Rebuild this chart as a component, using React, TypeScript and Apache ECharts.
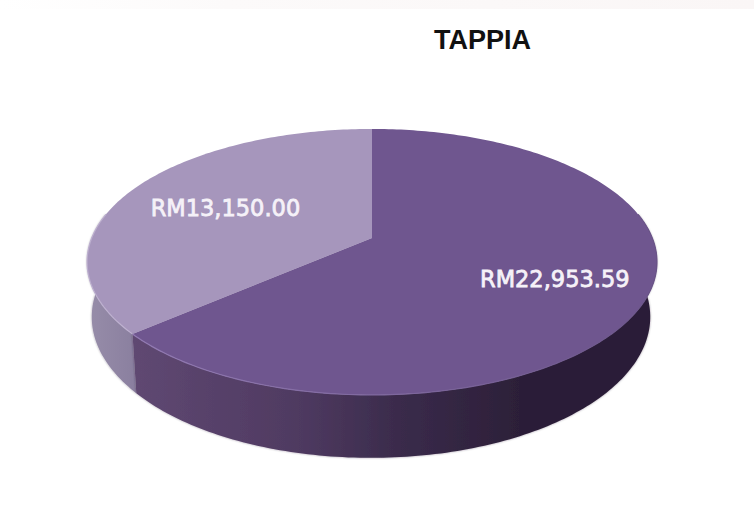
import React, { useEffect, useRef } from "react";
import * as echarts from "echarts";

const titleText = "TAPPIA";
const sliceValues = [13150.0, 22953.59];
const sliceLabels = ["RM13,150.00", "RM22,953.59"];
const topColors = ["#a696bc", "#6f568f"];
const rimColors = [["#bdb0cf", "#bdb0cf"], ["#927ab3", "#6a5488"]];
const wallStops: [number, string][][] = [
  [[0, "#978da9"], [1, "#8a7f9f"]],
  [[0, "#5f4872"], [0.315, "#4f3a61"], [0.51, "#3a2b4b"], [0.74, "#2c1f38"], [1, "#2c1f38"]],
];

// projection of the tilted disc
const CX = 372;
const APEX_Y = 238;
const A = 280.3;
const B = 128.7;
const K = 0.18;
const BOTTOM_CX = 371;
const BOTTOM_Y = 291.5;
const BOTTOM_SX = 0.98;
const BOTTOM_SY = 1.06;
const LABEL_RADIUS = [0.6, 0.68];
const LABEL_DY = [1, 3];
const FRONT_FROM = 79;
const FRONT_TO = 281;

const project = (deg: number, r = 1) => {
  const t = (deg * Math.PI) / 180;
  const u = -Math.sin(t) * r;
  const v = Math.cos(t) * r;
  const w = 1 + K * v;
  return [(A * u) / w, (-B * v) / w];
};
const topPoint = (deg: number, r = 1) => {
  const [x, y] = project(deg, r);
  return [CX + x, APEX_Y + y];
};
const bottomPoint = (deg: number) => {
  const [x, y] = project(deg);
  return [BOTTOM_CX + x * BOTTOM_SX, BOTTOM_Y + y * BOTTOM_SY];
};
const arc = (from: number, to: number, fn: (d: number) => number[]) => {
  const pts: number[][] = [];
  const n = Math.max(1, Math.ceil(Math.abs(to - from)));
  for (let i = 0; i <= n; i++) pts.push(fn(from + ((to - from) * i) / n));
  return pts;
};

export default function App() {
  const ref = useRef<HTMLDivElement>(null);
  useEffect(() => {
    const chart = echarts.init(ref.current!, null, { renderer: "svg" });
    const total = sliceValues.reduce((a, b) => a + b, 0);
    const renderItem = (params: any, api: any) => {
      const idx = params.dataIndex;
      const before = sliceValues.slice(0, idx).reduce((a, b) => a + b, 0);
      const start = (before / total) * 360;
      const end = start + (api.value(0) / total) * 360;
      const children: any[] = [];
      const wallFrom = Math.max(start, FRONT_FROM);
      const wallTo = Math.min(end, FRONT_TO);
      if (wallTo > wallFrom) {
        const frontTop = arc(wallFrom, wallTo, (d) => topPoint(d));
        const frontBottom = arc(wallTo, wallFrom, bottomPoint);
        children.push({
          type: "polygon",
          shape: { points: frontTop.concat(frontBottom) },
          style: {
            fill: new echarts.graphic.LinearGradient(
              0, 0, 1, 0,
              wallStops[idx].map(([offset, color]) => ({ offset, color }))
            ),
            shadowBlur: 2,
            shadowColor: "rgba(40,30,50,0.4)",
          },
        });
      }
      const rim = arc(start, end, (d) => topPoint(d));
      children.push({
        type: "polygon",
        shape: { points: [[CX, APEX_Y], ...rim] },
        style: { fill: topColors[idx] },
      });
      if (wallTo > wallFrom) {
        children.push({
          type: "polyline",
          shape: { points: arc(wallFrom, wallTo, (d) => topPoint(d)) },
          style: {
            fill: "none",
            lineWidth: 1.2,
            stroke: new echarts.graphic.LinearGradient(0, 0, 1, 0, [
              { offset: 0, color: rimColors[idx][0] },
              { offset: 1, color: rimColors[idx][1] },
            ]),
          },
        });
      }
      const [lx, ly] = topPoint((start + end) / 2, LABEL_RADIUS[idx]);
      children.push({
        type: "text",
        style: {
          text: sliceLabels[idx],
          x: lx,
          y: ly + LABEL_DY[idx],
          align: "center",
          verticalAlign: "middle",
          fill: "#f5f1f8",
          stroke: "#f5f1f8",
          lineWidth: 0.8,
          font: '22.5px "DejaVu Sans"',
        },
      });
      return { type: "group", children };
    };
    chart.setOption({
      animation: false,
      backgroundColor: "#ffffff",
      title: {
        text: titleText,
        left: 434,
        top: 26,
        padding: 0,
        textStyle: {
          fontFamily: "Liberation Sans",
          fontSize: 27,
          fontWeight: "bold",
          color: "#111111",
        },
      },
      graphic: [
        {
          type: "rect",
          z: -1,
          shape: { x: 0, y: 0, width: 754, height: 9 },
          style: {
            fill: new echarts.graphic.LinearGradient(0, 0, 1, 0, [
              { offset: 0, color: "#ffffff" },
              { offset: 0.3, color: "#fcfafa" },
              { offset: 1, color: "#faf6f6" },
            ]),
          },
        },
      ],
      series: [
        {
          type: "custom",
          coordinateSystem: "none",
          renderItem,
          data: sliceValues.map((v) => [v]),
        },
      ],
    });
    return () => chart.dispose();
  }, []);
  return (
    <div
      ref={ref}
      style={{ position: "fixed", left: 0, top: 0, width: 754, height: 528 }}
    />
  );
}
